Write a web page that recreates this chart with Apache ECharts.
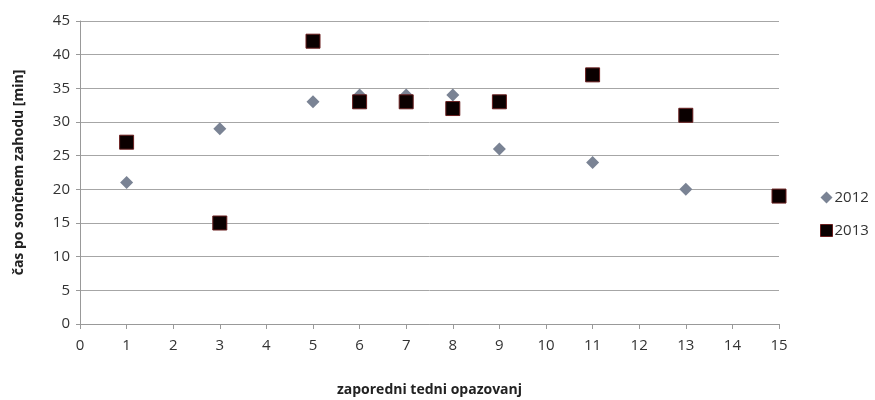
<!DOCTYPE html>
<html><head><meta charset="utf-8">
<script src="https://cdn.jsdelivr.net/npm/echarts@6/dist/echarts.min.js"></script>
<style>html,body{margin:0;padding:0;background:#fff}#c{width:875px;height:400px}</style>
</head><body><div id="c"></div>
<script>
const weeks = [1, 3, 5, 6, 7, 8, 9, 11, 13, 15];
const values2012 = [21, 29, 33, 34, 34, 34, 26, 24, 20, 19];
const values2013 = [27, 15, 42, 33, 33, 32, 33, 37, 31, 19];
const seriesNames = ['2012', '2013'];
const xTitle = 'zaporedni tedni opazovanj';
const yTitle = 'čas po sončnem zahodu [min]';

const font = '"Open Sans", "Noto Sans", sans-serif';
const chart = echarts.init(document.getElementById('c'));
chart.setOption({
  animation: false,
  backgroundColor: '#fff',
  textStyle: { fontFamily: font },
  grid: { left: 80, right: 96, top: 21, bottom: 76, outerBoundsMode: 'none', containLabel: false },
  legend: {
    orient: 'vertical', left: 815, top: 185, itemGap: 18,
    itemWidth: 12, itemHeight: 12,
    textStyle: { fontFamily: font, fontSize: 15, color: '#333', padding: [0, 0, 0, -3] },
    data: [
      { name: seriesNames[0], icon: 'diamond', itemStyle: { color: '#7a8394' } },
      { name: seriesNames[1], icon: 'rect', itemStyle: { color: '#0a0000', borderColor: '#6a1f1f', borderWidth: 1 } }
    ]
  },
  xAxis: {
    type: 'value', min: 0, max: 15, interval: 1,
    name: xTitle, nameLocation: 'middle', nameGap: 59,
    nameTextStyle: { fontFamily: font, fontWeight: 'bold', fontSize: 14, color: '#222' },
    axisLine: { show: true, lineStyle: { color: '#999', width: 1 } },
    axisTick: { show: true, inside: false, length: 5, lineStyle: { color: '#999' } },
    axisLabel: { fontFamily: font, fontSize: 15, color: '#333', margin: 14 },
    splitLine: { show: false }
  },
  yAxis: {
    type: 'value', min: 0, max: 45, interval: 5,
    name: yTitle, nameLocation: 'middle', nameGap: 54, nameRotate: 90,
    nameTextStyle: { fontFamily: font, fontWeight: 'bold', fontSize: 14, color: '#222' },
    axisLine: { show: true, lineStyle: { color: '#999', width: 1 } },
    axisTick: { show: true, length: 4, lineStyle: { color: '#999' } },
    axisLabel: { fontFamily: font, fontSize: 15, color: '#333', margin: 10 },
    splitLine: { show: true, lineStyle: { color: '#a6a6a6', width: 1 } }
  },
  series: [
    {
      name: seriesNames[0], type: 'scatter', symbol: 'diamond', symbolSize: 13,
      itemStyle: { color: '#7a8394', opacity: 1 },
      data: weeks.map((w, i) => [w, values2012[i]])
    },
    {
      name: seriesNames[1], type: 'scatter', symbol: 'rect', symbolSize: 14,
      itemStyle: { color: '#0a0000', borderColor: '#6a1f1f', borderWidth: 1, opacity: 1 },
      data: weeks.map((w, i) => [w, values2013[i]])
    }
  ]
});
</script></body></html>
